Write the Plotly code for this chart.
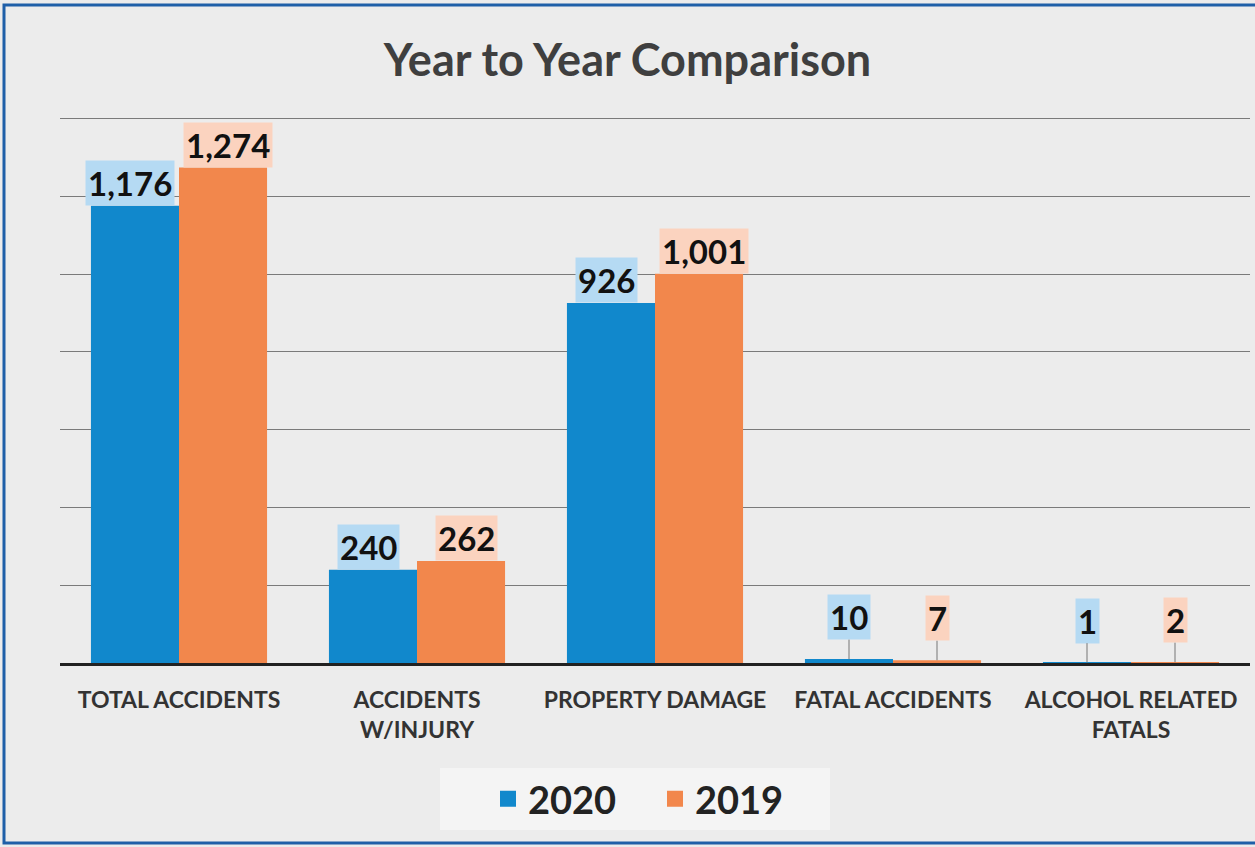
import plotly.graph_objects as go

categories = ["TOTAL ACCIDENTS", "ACCIDENTS<br>W/INJURY", "PROPERTY DAMAGE",
              "FATAL ACCIDENTS", "ALCOHOL RELATED<br>FATALS"]
series_names = ["2020", "2019"]
values_2020 = [1176, 240, 926, 10, 1]
values_2019 = [1274, 262, 1001, 7, 2]
y_ticks = [0, 200, 400, 600, 800, 1000, 1200, 1400]

colors = {"2020": "#1188cc", "2019": "#f2874c"}
label_bg = {"2020": "#b5daf3", "2019": "#fbd3bf"}
FONT = "Lato, sans-serif"

W, H = 1255, 847
ML, MR, MT, MB = 60, 5, 117, 184
pw, ph = W - ML - MR, H - MT - MB

fig = go.Figure()
series = [("2020", values_2020), ("2019", values_2019)]
for name, vals in series:
    fig.add_trace(go.Bar(
        x=categories, y=vals, name=name, showlegend=False,
        marker=dict(color=colors[name], line=dict(width=0)),
    ))
# legend entries with larger square swatches
for name, _ in series:
    fig.add_trace(go.Scatter(
        x=[None], y=[None], mode="markers", name=f"<b>{name}</b>",
        marker=dict(symbol="square", size=17, color=colors[name]),
    ))

annotations = []
offset_big = {"2020": -49, "2019": 49}
offset_small = {"2020": -44, "2019": 44}
for name, vals in series:
    for cat, v in zip(categories, vals):
        text = f"<b>{v:,}</b>"
        common = dict(x=cat, y=v, xref="x", yref="y", text=text,
                      font=dict(family=FONT, size=33, color="#111111"),
                      bgcolor=label_bg[name], borderpad=2)
        if v >= 100:
            annotations.append(dict(showarrow=False, yanchor="bottom",
                                    xshift=offset_big[name], **common))
        else:
            annotations.append(dict(showarrow=True, arrowhead=0, arrowwidth=1,
                                    arrowcolor="#777777", ax=0, ay=-42,
                                    xshift=offset_small[name], standoff=0, **common))


def px_x(px):
    return (px - ML) / pw


def px_y(py):
    return (H - MB - py) / ph


shapes = [
    dict(type="rect", xref="paper", yref="paper",
         x0=px_x(440), x1=px_x(830), y0=px_y(830), y1=px_y(768),
         line=dict(width=0), fillcolor="#f4f4f4", layer="below"),
    dict(type="rect", xref="paper", yref="paper",
         x0=px_x(4), x1=px_x(1262), y0=px_y(843), y1=px_y(5),
         line=dict(color="#1f5fa8", width=3), fillcolor="rgba(0,0,0,0)",
         layer="above"),
]

fig.update_layout(
    width=W, height=H,
    margin=dict(l=ML, r=MR, t=MT, b=MB),
    paper_bgcolor="#ececec", plot_bgcolor="#ececec",
    barmode="group", bargap=0.26, bargroupgap=0.0,
    title=dict(text="<b>Year to Year Comparison</b>", x=0.5, xanchor="center",
               y=1 - 60 / H, yanchor="middle",
               font=dict(family=FONT, size=45, color="#3f3f3f")),
    xaxis=dict(showgrid=False, showline=True, linecolor="#222222", linewidth=3,
               ticks="", tickfont=dict(family=FONT, size=23, color="#333333", weight="bold"),
               ticklabelstandoff=14),
    yaxis=dict(range=[0, 1404], tickvals=y_ticks, showticklabels=False,
               showgrid=True, gridcolor="#7a7a7a", gridwidth=1, zeroline=False,
               showline=False),
    legend=dict(orientation="h", x=px_x(488), xanchor="left", y=px_y(799), yanchor="middle",
                bgcolor="rgba(0,0,0,0)", borderwidth=0, entrywidth=122,
                font=dict(family=FONT, size=38, color="#222222"),
                traceorder="normal"),
    annotations=annotations,
    shapes=shapes,
    showlegend=True,
)

fig.write_html("out.html", config={"displayModeBar": False},
               post_script="document.body.style.margin='0px';")
